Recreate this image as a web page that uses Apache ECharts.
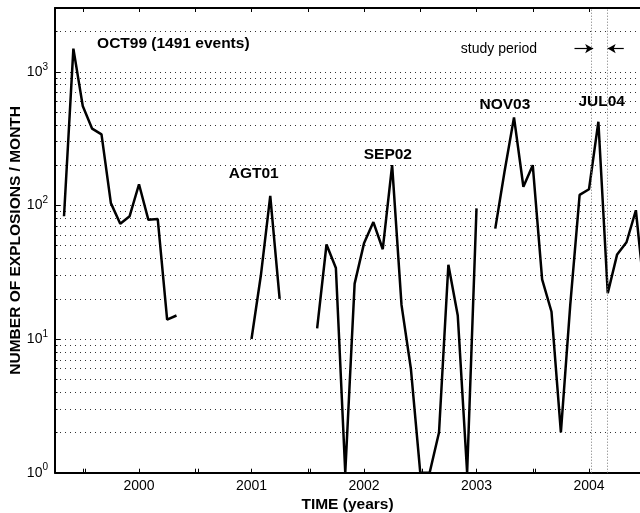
<!DOCTYPE html>
<html><head><meta charset="utf-8">
<script src="https://cdn.jsdelivr.net/npm/echarts@6/dist/echarts.min.js"></script>
<style>html,body{margin:0;padding:0;background:#fff}#c{width:640px;height:513px}</style>
</head><body><div id="c"></div>
<script>
// ---- data ----
const startYear = 1999;
const startMonth = 5; // first monthly value: May 1999
const counts = [83, 1491, 554, 375, 340, 104, 73, 83, 144, 78, 79, 14, 15,
  null, null, null, null, null, null, null,
  10, 30, 118, 20,
  null, null, null,
  12, 51, 34, 1, 26, 52, 75, 47, 200, 18, 6, 1, 1, 2, 36, 15, 1, 95,
  null,
  67, 181, 456, 138, 200, 28, 16, 2, 18, 120, 132, 423, 22, 43, 53, 92, 19];
const yearLabels = [2000, 2001, 2002, 2003, 2004];
const bottomTicks = [1999.5, 1999.524, 2000, 2000.5, 2000.524, 2001, 2001.5, 2001.524, 2002, 2002.522, 2003, 2003.5, 2003.524, 2004];
const topTicks = [1999.5, 2000, 2000.5, 2001, 2001.5, 2002, 2002.5, 2003, 2003.5, 2004];
const majorY = [1, 10, 100, 1000];
const minorY = [2, 3, 4, 5, 6, 7, 8, 9, 20, 30, 40, 50, 60, 70, 80, 90, 200, 300, 400, 500, 600, 700, 800, 900, 2000];
const studyPeriod = [2004.024, 2004.163];
const eventLabels = ['OCT99 (1491 events)', 'AGT01', 'SEP02', 'NOV03', 'JUL04'];
const eventLabelT = [2000.305, 2001.020, 2002.212, 2003.252, 2004.113];
const eventLabelV = [1631, 174, 241, 570, 597];
const studyText = {name: 'study period', t: 2003.200, v: 1479};
const arrows = [[2003.871, 2004.037, 1490], [2004.309, 2004.166, 1490]];

const FONT = '"Liberation Sans", Arial, Helvetica, sans-serif';
const xMin = 1999.2533, xMax = 2004.4533;

const lineData = counts.map((c, i) => [startYear + (startMonth - 1 + i) / 12, c === null ? '-' : c]);

const markPoints = eventLabels.map((n, i) => ({name: n, coord: [eventLabelT[i], eventLabelV[i]]}));
markPoints.push({name: studyText.name, coord: [studyText.t, studyText.v],
  label: {fontWeight: 'normal', fontSize: 14}});

const markLines = studyPeriod.map(t => ({xAxis: t,
  lineStyle: {color: '#777', width: 1, type: [1, 2]}}));
arrows.forEach(a => markLines.push([
  {coord: [a[0], a[2]], symbol: 'none', lineStyle: {color: '#000', width: 1.2, type: 'solid'}},
  {coord: [a[1], a[2]], symbol: 'arrow', symbolSize: [7, 8]}
]));

const chart = echarts.init(document.getElementById('c'));
chart.setOption({
  animation: false,
  backgroundColor: '#fff',
  textStyle: {fontFamily: FONT},
  grid: {left: 55, right: 0, top: 8, bottom: 40.3, containLabel: false, outerBoundsMode: 'none'},
  xAxis: [{
    type: 'value', min: xMin, max: xMax, position: 'bottom',
    name: 'TIME (years)', nameLocation: 'middle', nameGap: 24, nameMoveOverlap: false,
    nameTextStyle: {color: '#000', fontWeight: 'bold', fontSize: 15.5, fontFamily: FONT},
    axisLine: {show: true, lineStyle: {color: '#000', width: 2}},
    axisTick: {show: true, inside: true, length: 4, customValues: bottomTicks, lineStyle: {color: '#000', width: 1}},
    axisLabel: {show: true, customValues: yearLabels, margin: 6, color: '#000', fontSize: 14, fontFamily: FONT,
      formatter: v => String(Math.round(v))},
    splitLine: {show: false}
  }, {
    type: 'value', min: xMin, max: xMax, position: 'top',
    axisLine: {show: true, lineStyle: {color: '#000', width: 2}},
    axisTick: {show: true, inside: true, length: 4, customValues: topTicks, lineStyle: {color: '#000', width: 1}},
    axisLabel: {show: false},
    splitLine: {show: false}
  }],
  yAxis: [{
    type: 'log', logBase: 10, min: 1, max: 3000, position: 'left',
    name: 'NUMBER OF EXPLOSIONS / MONTH', nameLocation: 'middle', nameGap: 31, nameMoveOverlap: false,
    nameTextStyle: {color: '#000', fontWeight: 'bold', fontSize: 15.5, fontFamily: FONT},
    axisLine: {show: true, lineStyle: {color: '#000', width: 2}},
    axisTick: {show: true, inside: true, length: 5, customValues: majorY, lineStyle: {color: '#000', width: 1}},
    axisLabel: {show: true, customValues: majorY, margin: 7, color: '#000',
      formatter: v => '{b|10}{s|' + Math.round(Math.log10(v)) + '}',
      rich: {
        b: {fontSize: 14, lineHeight: 20, fontFamily: FONT, color: '#000'},
        s: {fontSize: 10, lineHeight: 11, verticalAlign: 'top', fontFamily: FONT, color: '#000'}
      }},
    splitLine: {show: true, lineStyle: {color: '#333', width: 1, type: [1, 4]}}
  }, {
    type: 'log', logBase: 10, min: 1, max: 3000, position: 'left',
    axisLine: {show: false},
    axisTick: {show: true, inside: true, length: 2.5, customValues: minorY, lineStyle: {color: '#000', width: 1}},
    axisLabel: {show: false},
    splitLine: {show: true, lineStyle: {color: '#333', width: 1, type: [1, 4]}}
  }],
  series: [{
    type: 'line', xAxisIndex: 0, yAxisIndex: 0,
    data: lineData, symbol: 'none', connectNulls: false, clip: true, z: 3,
    lineStyle: {color: '#000', width: 2.5},
    markPoint: {
      silent: true, symbol: 'circle', symbolSize: 0,
      itemStyle: {color: 'transparent'},
      label: {show: true, position: 'inside', formatter: '{b}', color: '#000',
        fontWeight: 'bold', fontSize: 15.5, fontFamily: FONT},
      data: markPoints
    },
    markLine: {
      silent: true, symbol: ['none', 'none'], animation: false,
      label: {show: false},
      itemStyle: {color: '#000'},
      data: markLines
    }
  }]
});
</script></body></html>
